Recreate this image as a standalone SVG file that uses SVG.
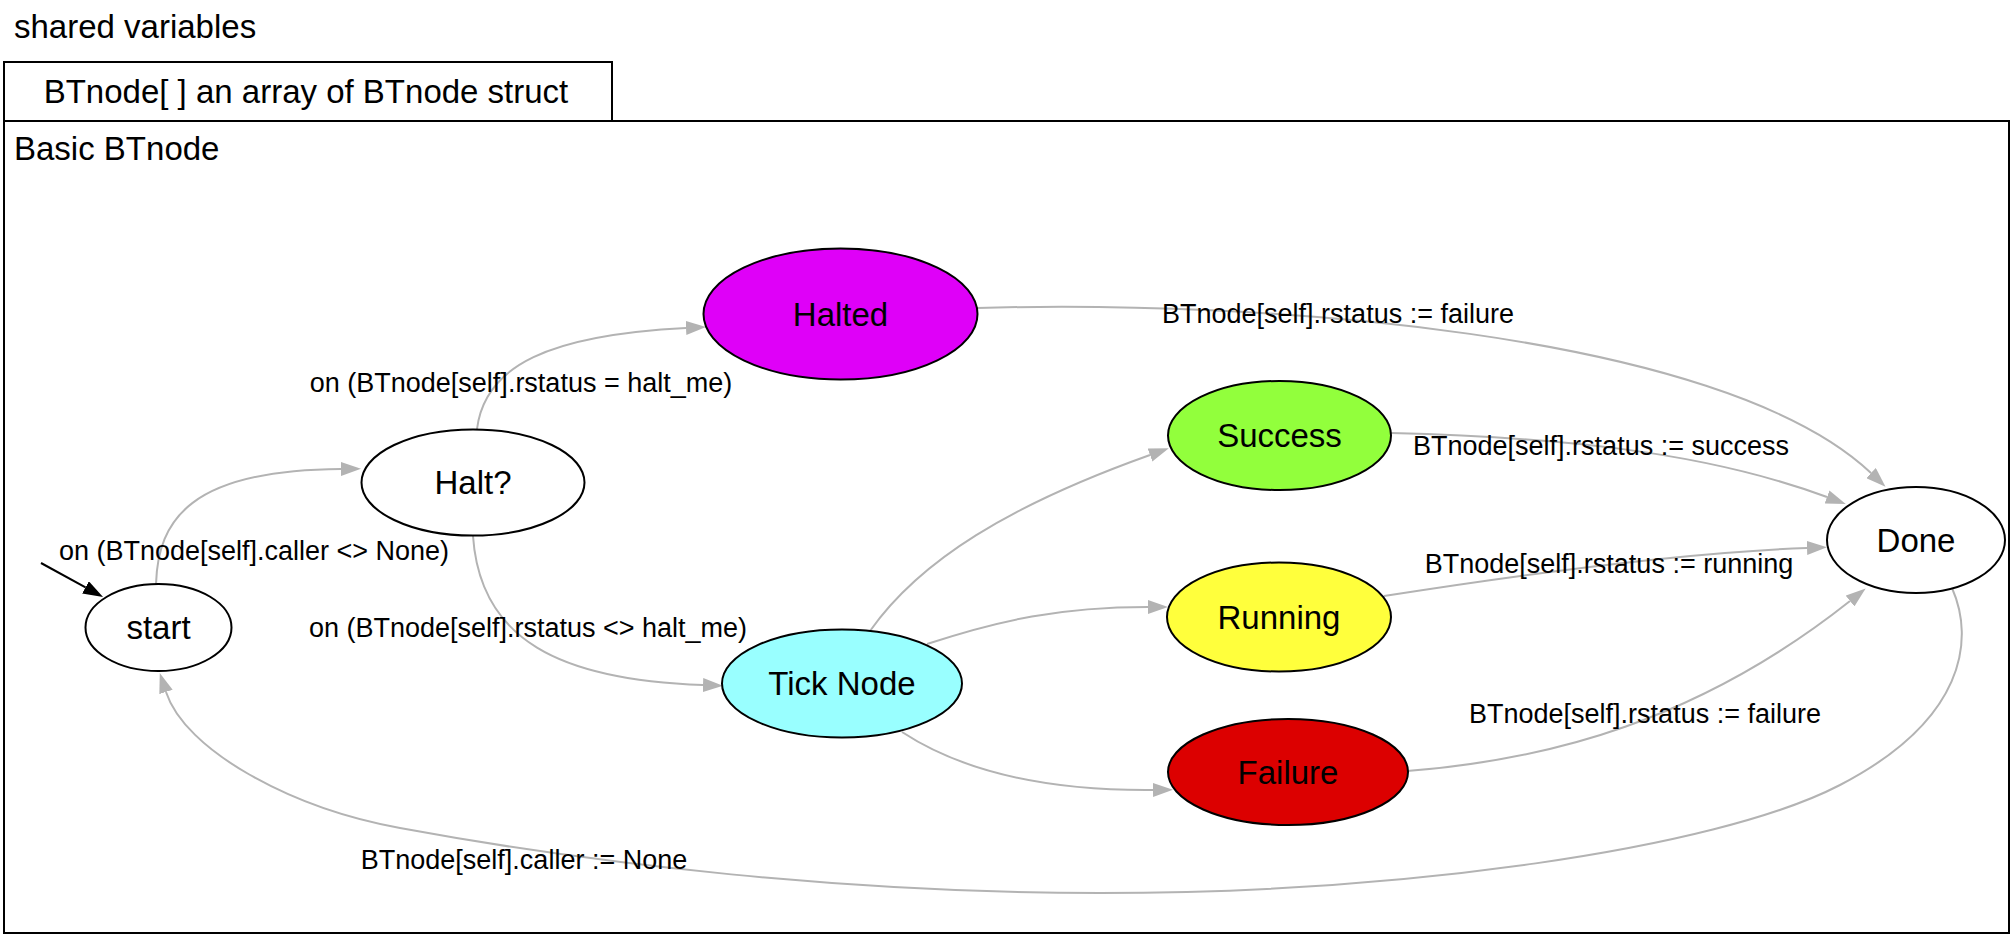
<svg xmlns="http://www.w3.org/2000/svg" width="2012" height="935" viewBox="0 0 2012 935">
<style>
text{font-family:"Liberation Sans",Arial,Helvetica,sans-serif;fill:#000}
.title{font-size:33px}
.node{font-size:33px;text-anchor:middle}
.lbl{font-size:27px;text-anchor:middle}
.box{fill:none;stroke:#000;stroke-width:2}
.nd{stroke:#000;stroke-width:2}
.e{fill:none;stroke:#b3b3b3;stroke-width:2;marker-end:url(#ah)}
</style>
<defs>
<marker id="ah" viewBox="0 0 20 14" refX="0" refY="7" markerWidth="20" markerHeight="14" markerUnits="userSpaceOnUse" orient="auto">
<path d="M0,0 L20,7 L0,14 z" fill="#b3b3b3"/>
</marker>
<marker id="ahb" viewBox="0 0 20 14" refX="0" refY="7" markerWidth="20" markerHeight="14" markerUnits="userSpaceOnUse" orient="auto">
<path d="M0,0 L20,7 L0,14 z" fill="#000"/>
</marker>
</defs>
<rect width="2012" height="935" fill="#fff"/>
<g id="frames">
<text class="title" x="14" y="38">shared variables</text>
<rect class="box" x="4" y="62" width="608" height="59"/>
<text class="title" x="306" y="103" text-anchor="middle">BTnode[ ] an array of BTnode struct</text>
<rect class="box" x="4" y="121" width="2005" height="812"/>
<text class="title" x="14" y="160">Basic BTnode</text>
</g>
<g id="connectors">
<path d="M41,563 L85.5,587.4" fill="none" stroke="#000" stroke-width="2" marker-end="url(#ahb)"/>
<path class="e" d="M156,584 C158,520 190,470 341,469"/>
<path class="e" d="M477,429 C485,365 550,335 686,328"/>
<path class="e" d="M473,536 C480,640 560,680 703,685"/>
<path class="e" d="M977,308 C1250,300 1720,330 1871,473"/>
<path class="e" d="M870,631 C920,560 1010,505 1150,455"/>
<path class="e" d="M927,644 C1000,620 1060,607 1148,607"/>
<path class="e" d="M902,732 C960,770 1040,791 1153,790"/>
<path class="e" d="M1391,433 C1550,437 1700,450 1827,497"/>
<path class="e" d="M1384,596 C1550,570 1700,552 1807,548"/>
<path class="e" d="M1407,771 C1550,760 1700,720 1850,601"/>
<path class="e" d="M1952,588 C1975,640 1965,720 1840,785 C1715,850 1400,893 1100,893 C850,893 600,865 400,828 C290,808 185,750 166,692"/>
<text class="lbl" x="254" y="560">on (BTnode[self].caller &lt;&gt; None)</text>
<text class="lbl" x="521" y="392">on (BTnode[self].rstatus = halt_me)</text>
<text class="lbl" x="528" y="637">on (BTnode[self].rstatus &lt;&gt; halt_me)</text>
<text class="lbl" x="1338" y="323">BTnode[self].rstatus := failure</text>
<text class="lbl" x="1601" y="455">BTnode[self].rstatus := success</text>
<text class="lbl" x="1609" y="573">BTnode[self].rstatus := running</text>
<text class="lbl" x="1645" y="723">BTnode[self].rstatus := failure</text>
<text class="lbl" x="524" y="869">BTnode[self].caller := None</text>
</g>
<g id="start"><ellipse class="nd" cx="158.5" cy="627.5" rx="73" ry="43.5" fill="#fff"/><text class="node" x="158.5" y="639">start</text></g>
<g id="halt_q"><ellipse class="nd" cx="473" cy="482.5" rx="111.5" ry="53" fill="#fff"/><text class="node" x="473" y="494">Halt?</text></g>
<g id="halted"><ellipse class="nd" cx="840.5" cy="314" rx="137" ry="65.5" fill="#df00f8"/><text class="node" x="840.5" y="326">Halted</text></g>
<g id="tick"><ellipse class="nd" cx="842" cy="683.5" rx="120" ry="54" fill="#99ffff"/><text class="node" x="842" y="695">Tick Node</text></g>
<g id="success"><ellipse class="nd" cx="1279.5" cy="435.5" rx="111.5" ry="54.5" fill="#92ff3c"/><text class="node" x="1279.5" y="447">Success</text></g>
<g id="running"><ellipse class="nd" cx="1279" cy="617" rx="112" ry="54.5" fill="#ffff3c"/><text class="node" x="1279" y="628.5">Running</text></g>
<g id="failure"><ellipse class="nd" cx="1288" cy="772" rx="120" ry="53" fill="#dc0000"/><text class="node" x="1288" y="783.5">Failure</text></g>
<g id="done"><ellipse class="nd" cx="1916" cy="540" rx="89" ry="53" fill="#fff"/><text class="node" x="1916" y="551.5">Done</text></g>
</svg>
